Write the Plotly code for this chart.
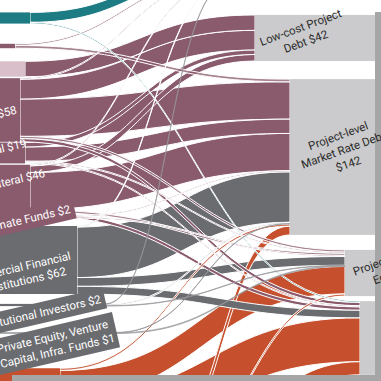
import plotly.graph_objects as go

W = H = 381

# ---------------- data ----------------
source_names = ["Governments", "Public budgets", "Government agencies", "National",
                "Bilateral", "Multilateral", "Climate Funds",
                "Commercial Financial Institutions", "Institutional Investors",
                "Private Equity, Venture Capital, Infra. Funds",
                "Project developers", "Corporate actors"]
instrument_names = ["Grants", "Low-cost Project Debt", "Project-level Market Rate Debt",
                    "Project-level Equity", "Balance sheet financing"]

link_source = [0, 0, 1, 1, 2,
               3, 3, 3, 3, 3,
               4, 4, 4, 4,
               5, 5, 5, 5, 5,
               6, 6,
               7, 7, 7, 7,
               8, 8, 8,
               9, 9,
               10, 10, 10,
               11, 11, 11]
link_target = [12, 16, 12, 14, 13,
               12, 13, 14, 15, 16,
               13, 14, 15, 16,
               12, 13, 14, 15, 16,
               14, 15,
               12, 14, 15, 16,
               12, 14, 15,
               14, 15,
               14, 15, 16,
               14, 15, 16]
link_value = [9, 1.2, 1.5, 2.5, 14,
              1, 18, 34, 2, 3,
              4, 13, 1, 1,
              1, 6, 34, 2, 3,
              1, 1,
              1, 46, 8, 7,
              0.4, 1.2, 0.4,
              0.3, 0.7,
              2, 25, 40,
              8, 2, 12]

left_labels = ["National $58", "Bilateral $19", "Multilateral $46", "Climate Funds $2",
               "Commercial Financial", "Institutions $62", "Institutional Investors $2",
               "Private Equity, Venture<br>Capital, Infra. Funds $1"]
right_labels = ["Low-cost Project<br>Debt $42", "Project-level<br>Market Rate Debt<br>$142",
                "Project-level<br>Equity"]

# ---------------- layout / style ----------------
T = 130  # node thickness (px)
src_x1_px = [30, 15, 25, 20, 25, 30, 70, 77, 105, 115, 60, 150]
src_cy_px = [18, 46, 69, 110, 153, 190, 217, 260, 305, 333, 405, 470]
ins_x0_px = [230, 255, 290, 345, 360]
ins_cy_px = [-25, 38, 157, 273, 338]

TEAL = "#1d7b83"
MAUVE = "#8a5a6d"
PINK = "#d8bfca"
GREY = "#6b6c70"
ORANGE = "#c6502d"
BOX = "#cbcbcd"

src_colors = [TEAL, MAUVE, PINK, MAUVE, MAUVE, MAUVE, MAUVE, GREY, GREY, GREY, ORANGE, ORANGE]
ins_colors = [BOX, BOX, BOX, BOX, BOX]
thin_colors = {TEAL: "rgba(29,123,131,0.85)", MAUVE: "rgba(138,90,109,0.75)",
               PINK: "rgba(138,90,109,0.75)", GREY: "rgba(150,150,155,0.65)",
               ORANGE: "rgba(198,80,45,0.85)"}

node_x = [(x1 - T / 2) / W for x1 in src_x1_px] + [(x0 + T / 2) / W for x0 in ins_x0_px]
node_y = [cy / H for cy in src_cy_px + ins_cy_px]
node_colors = src_colors + ins_colors
names = source_names + instrument_names

# draw big links first, thin ones on top
order = sorted(range(len(link_value)), key=lambda i: -link_value[i])
l_src = [link_source[i] for i in order]
l_tgt = [link_target[i] for i in order]
l_val = [link_value[i] for i in order]
l_col = []
l_lw = []
for s, v in zip(l_src, l_val):
    base = MAUVE if s == 2 else src_colors[s]
    if v < 3:
        l_col.append(thin_colors[src_colors[s]])
        l_lw.append(0)
    else:
        l_col.append(base)
        l_lw.append(0.8)

fig = go.Figure(go.Sankey(
    arrangement="fixed",
    domain=dict(x=[0, 1], y=[0, 1]),
    node=dict(
        label=[""] * len(names),
        customdata=names,
        hovertemplate="%{customdata}<extra></extra>",
        x=node_x, y=node_y,
        thickness=T, pad=4,
        color=node_colors,
        line=dict(width=0),
    ),
    link=dict(source=l_src, target=l_tgt, value=l_val,
              color=l_col, line=dict(color="white", width=l_lw)),
))

FONT = "Roboto, Liberation Sans, sans-serif"
anns = []
# left labels: anchored at the top-right of their rotated box
left_anchor_px = [(23, 98), (33, 131), (51, 161), (77, 197), (77, 244), (72, 259),
                  (108, 287), (121, 311)]
left_bg = [None, None, None, MAUVE, None, None, GREY, GREY]
for txt, (ax_, ay_), bg in zip(left_labels, left_anchor_px, left_bg):
    a = dict(text=txt, x=ax_ / W, y=1 - ay_ / H, xref="paper", yref="paper",
             xanchor="right", yanchor="top", showarrow=False, textangle=-13,
             align="left", font=dict(family=FONT, size=11.5, color="white"),
             borderpad=3)
    if bg:
        a["bgcolor"] = bg
    anns.append(a)

right_center_px = [(303, 34), (343, 150), (385, 268)]
for txt, (cx, cy) in zip(right_labels, right_center_px):
    anns.append(dict(text=txt, x=cx / W, y=1 - cy / H, xref="paper", yref="paper",
                     xanchor="center", yanchor="middle", showarrow=False, textangle=-20,
                     align="center", font=dict(family=FONT, size=11.5, color="#2b2b2b")))

# photo frame shadow (right and bottom edges)
shapes = [
    dict(type="rect", xref="paper", yref="paper", x0=375 / W, x1=1, y0=0, y1=1 - 12 / H,
         fillcolor="#a6a6a6", line=dict(width=0), layer="above"),
    dict(type="rect", xref="paper", yref="paper", x0=12 / W, x1=1, y0=0, y1=6 / H,
         fillcolor="#a6a6a6", line=dict(width=0), layer="above"),
]

fig.update_layout(width=W, height=H, margin=dict(l=0, r=0, t=0, b=0),
                  paper_bgcolor="white", plot_bgcolor="white",
                  annotations=anns, shapes=shapes, showlegend=False)
fig.write_html("out.html")
